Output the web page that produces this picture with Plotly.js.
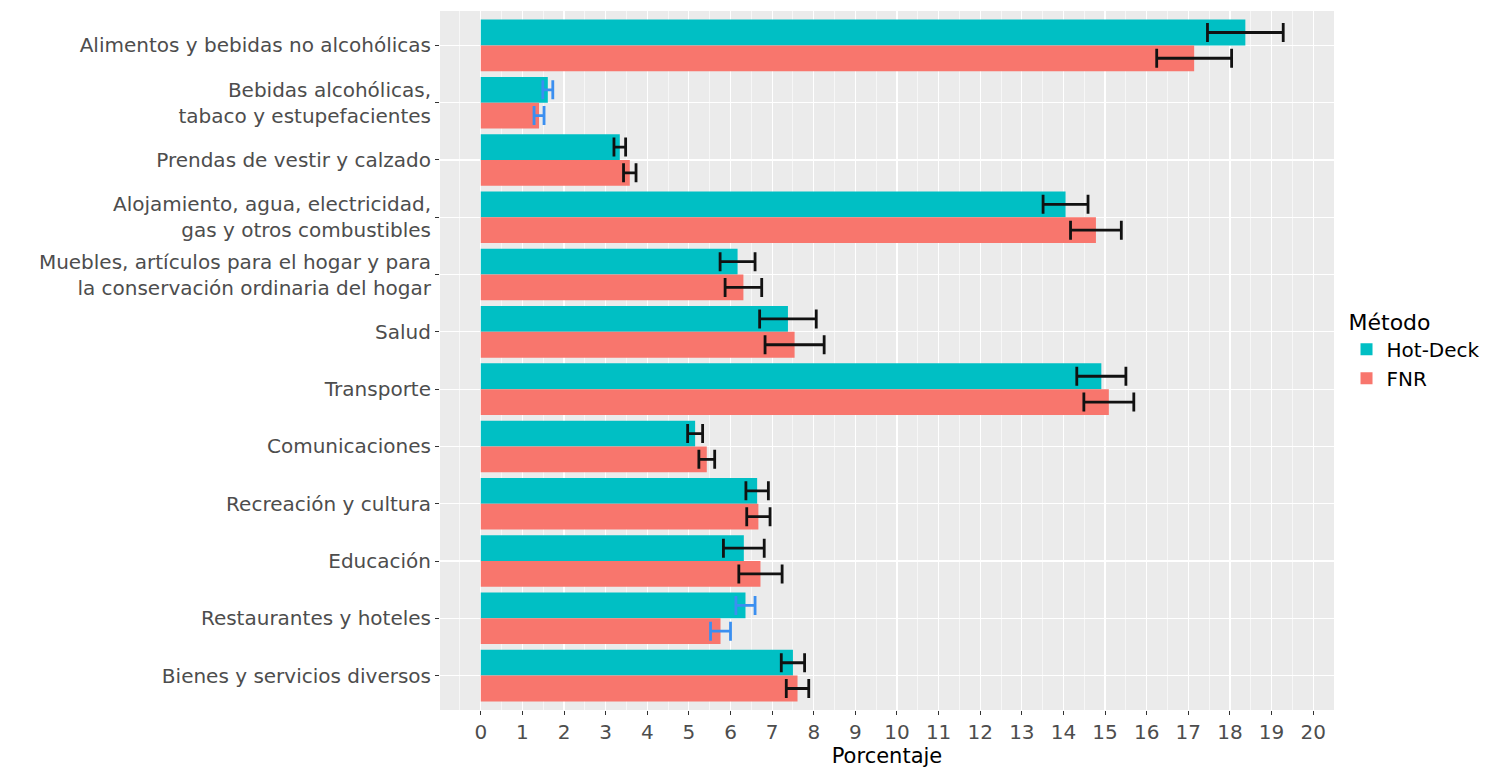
<!DOCTYPE html>
<html>
<head>
<meta charset="utf-8">
<script src="https://cdn.plot.ly/plotly-3.0.1.min.js"></script>
<style>html,body{margin:0;padding:0;background:#fff;}#chart{width:1497px;height:774px;}</style>
</head>
<body>
<div id="chart"></div>
<script>
// Categories, top to bottom
var categories = [
  "Alimentos y bebidas no alcohólicas",
  "Bebidas alcohólicas,<br>tabaco y estupefacientes",
  "Prendas de vestir y calzado",
  "Alojamiento, agua, electricidad,<br>gas y otros combustibles",
  "Muebles, artículos para el hogar y para<br>la conservación ordinaria del hogar",
  "Salud",
  "Transporte",
  "Comunicaciones",
  "Recreación y cultura",
  "Educación",
  "Restaurantes y hoteles",
  "Bienes y servicios diversos"
];
var hotDeck    = [18.37, 1.61, 3.34, 14.05, 6.17, 7.38, 14.91, 5.15, 6.64, 6.32, 6.36, 7.50];
var hotDeckErr = [0.91, 0.12, 0.14, 0.54, 0.42, 0.68, 0.59, 0.18, 0.27, 0.49, 0.23, 0.28];
var fnr        = [17.14, 1.40, 3.58, 14.78, 6.31, 7.54, 15.09, 5.43, 6.67, 6.72, 5.76, 7.61];
var fnrErr     = [0.90, 0.12, 0.15, 0.61, 0.44, 0.71, 0.60, 0.19, 0.28, 0.52, 0.24, 0.27];
// categories whose error bars are drawn in blue
var blueErrCategories = ["Bebidas alcohólicas,<br>tabaco y estupefacientes", "Restaurantes y hoteles"];
var xTicks = [0,1,2,3,4,5,6,7,8,9,10,11,12,13,14,15,16,17,18,19,20];

var n = categories.length;
var pos = categories.map(function(c, i){ return n - i; });
var dodge = 0.225, barW = 0.45;
var yTeal = pos.map(function(p){ return p + dodge; });
var yRed  = pos.map(function(p){ return p - dodge; });

var TEAL = "#00BFC4", RED = "#F8766D", BLUE = "#3b8ff0";
var FONT = "DejaVu Sans, Liberation Sans, Arial, sans-serif";

function errTrace(xs, errs, ys, color, isBlue) {
  var X = [], Y = [], E = [];
  for (var i = 0; i < n; i++) {
    var b = blueErrCategories.indexOf(categories[i]) >= 0;
    if (b === isBlue) { X.push(xs[i]); Y.push(ys[i]); E.push(errs[i]); }
  }
  return {
    type: "scatter", mode: "markers", x: X, y: Y,
    marker: {opacity: 0, size: 1}, showlegend: false, hoverinfo: "skip",
    error_x: {type: "data", array: E, symmetric: true, color: color, thickness: 2.8, width: 9.5}
  };
}

var traces = [
  {type: "bar", orientation: "h", name: "Hot-Deck", x: hotDeck, y: yTeal, width: barW,
   marker: {color: TEAL}, hoverinfo: "x"},
  {type: "bar", orientation: "h", name: "FNR", x: fnr, y: yRed, width: barW,
   marker: {color: RED}, hoverinfo: "x"},
  errTrace(hotDeck, hotDeckErr, yTeal, "#111111", false),
  errTrace(hotDeck, hotDeckErr, yTeal, BLUE, true),
  errTrace(fnr, fnrErr, yRed, "#111111", false),
  errTrace(fnr, fnrErr, yRed, BLUE, true)
];

var layout = {
  width: 1497, height: 774,
  margin: {l: 440, r: 161, t: 11, b: 64},
  paper_bgcolor: "#ffffff", plot_bgcolor: "#ebebeb",
  font: {family: FONT, size: 20, color: "#4d4d4d"},
  barmode: "overlay",
  showlegend: true,
  legend: {
    x: 1.014, y: 0.585, xanchor: "left", yanchor: "top",
    title: {text: "Método", font: {size: 22, color: "#000", family: FONT}},
    font: {size: 20, color: "#000", family: FONT}, bgcolor: "rgba(0,0,0,0)",
    tracegroupgap: 0, itemwidth: 30
  },
  xaxis: {
    range: [-0.98, 20.5], tickvals: xTicks, ticktext: xTicks.map(String),
    showgrid: true, gridcolor: "#ffffff", gridwidth: 1.2, zeroline: false,
    minor: {dtick: 0.5, tick0: 0, showgrid: true, gridcolor: "#ffffff", gridwidth: 0.6},
    ticks: "outside", ticklen: 4, tickcolor: "#333333", tickwidth: 1,
    tickfont: {size: 20, color: "#4d4d4d", family: FONT},
    title: {text: "Porcentaje", font: {size: 21, color: "#000", family: FONT}, standoff: 2},
    showline: false, fixedrange: true
  },
  yaxis: {
    range: [0.4, 12.6], tickvals: pos, ticktext: categories,
    showgrid: true, gridcolor: "#ffffff", gridwidth: 1.2, zeroline: false,
    ticks: "outside", ticklen: 4, tickcolor: "#333333", tickwidth: 1,
    tickfont: {size: 20, color: "#4d4d4d", family: FONT},
    showline: false, fixedrange: true
  }
};

Plotly.newPlot("chart", traces, layout, {displayModeBar: false, staticPlot: true});
</script>
</body>
</html>
